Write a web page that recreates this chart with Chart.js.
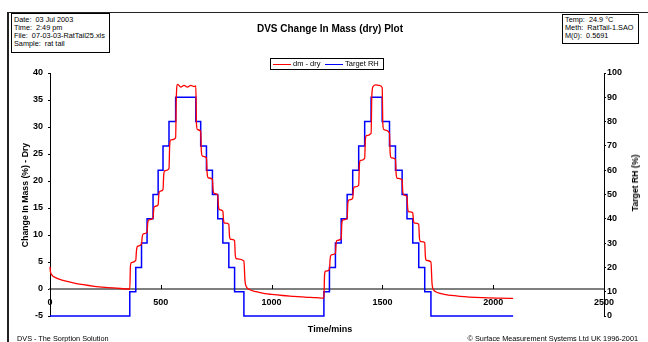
<!DOCTYPE html>
<html>
<head>
<meta charset="utf-8">
<script src="https://cdn.jsdelivr.net/npm/chart.js@4.4.0/dist/chart.umd.min.js"></script>
<style>
  html, body { margin: 0; padding: 0; background: #fff; }
  #wrap { position: relative; width: 648px; height: 342px; overflow: hidden; font-family: "Liberation Sans", Arial, sans-serif; color: #000; }
  #c { position: absolute; left: 0; top: 0; }
  .abs { position: absolute; white-space: nowrap; }
  .info { position: absolute; border: 1.5px solid #000; font-size: 7.3px; line-height: 8px; padding: 1px 2px; box-sizing: border-box; background: #fff; white-space: nowrap; overflow: hidden; }
  .rot { position: absolute; transform: translate(-50%, -50%) rotate(-90deg); font-weight: bold; white-space: nowrap; }
  .legend { position: absolute; border: 1.5px solid #000; box-sizing: border-box; font-size: 7.5px; background: #fff; }
  .legend .ln { position: absolute; height: 1.5px; top: 4.5px; }
  .legend .tx { position: absolute; top: 0; line-height: 10px; white-space: nowrap; color: #000; }
</style>
</head>
<body>
<div id="wrap">
  <canvas id="c" width="648" height="342"></canvas>

  <!-- frame -->
  <div class="abs" style="left:7px;top:12px;width:2px;height:330px;background:#222;"></div>
  <div class="abs" style="left:7px;top:11.5px;width:641px;height:1.5px;background:#222;"></div>

  <div class="info" style="left:11px;top:13px;width:99px;height:40px;padding-top:2px;">
    Date:&nbsp; 03 Jul 2003<br>Time:&nbsp; 2:49 pm<br>File:&nbsp; 07-03-03-RatTail25.xls<br>Sample:&nbsp; rat tail
  </div>
  <div class="info" style="left:562px;top:14px;width:77px;height:30px;">
    Temp:&nbsp; 24.9 °C<br>Meth:&nbsp; RatTail-1.SAO<br>M(0):&nbsp; 0.5691
  </div>

  <div class="abs" style="left:330px;top:28px;transform:translate(-50%,-50%);font-size:10px;font-weight:bold;">DVS Change In Mass (dry) Plot</div>

  <div class="legend" style="left:270px;top:58px;width:114px;height:12px;">
    <div class="ln" style="left:2px;width:18px;background:#ff0000;"></div>
    <div class="tx" style="left:22px;">dm - dry</div>
    <div class="ln" style="left:54px;width:18px;background:#0000ff;"></div>
    <div class="tx" style="left:74px;">Target RH</div>
  </div>

  <div class="rot" style="left:25px;top:195px;font-size:8.7px;">Change In Mass (%) - Dry</div>
  <div class="rot" style="left:635px;top:183px;font-size:8.7px;">Target RH (%)</div>
  <div class="abs" style="left:330px;top:329px;transform:translate(-50%,-50%);font-size:9px;font-weight:bold;">Time/mins</div>

  <div class="abs" style="left:17px;top:334px;font-size:7.3px;">DVS - The Sorption Solution</div>
  <div class="abs" style="right:10px;top:334px;font-size:7.3px;">© Surface Measurement Systems Ltd UK 1996-2001</div>
</div>

<script>
// dm - dry (left axis)
const massTime = [
  0, 2, 8, 25, 50, 100, 150, 200, 250, 300, 360,
  363, 367, 387, 390, 395, 413, 416, 421, 438, 441, 446, 465, 468, 473, 488, 491, 496,
  510, 513, 518, 537, 540, 545, 567, 570, 576, 590, 605, 620, 635, 650, 658,
  661, 666, 680, 683, 688, 706, 709, 714, 733, 736, 741, 757, 760, 765, 780, 783, 788,
  807, 810, 815, 833, 836, 841, 875, 880, 886, 900, 930, 970, 1000, 1050, 1100, 1150, 1200, 1236,
  1239, 1243, 1261, 1264, 1269, 1288, 1291, 1296, 1314, 1317, 1322, 1341, 1344, 1349,
  1366, 1369, 1374, 1393, 1396, 1401, 1420, 1423, 1428, 1449, 1452, 1458, 1470, 1485, 1499,
  1502, 1507, 1532, 1535, 1540, 1559, 1562, 1567, 1589, 1592, 1597, 1611, 1614, 1619,
  1637, 1640, 1645, 1664, 1667, 1672, 1691, 1694, 1699, 1719, 1724, 1730, 1745, 1787,
  1850, 1950, 2030, 2090
];
const massDry = [
  4.1, 3.2, 2.6, 2.1, 1.7, 1.2, 0.8, 0.5, 0.3, 0.15, 0.0,
  4.2, 4.9, 5.3, 7.0, 7.9, 8.3, 9.6, 10.2, 10.5, 12.2, 12.8, 13.1, 14.8, 15.3, 15.6, 17.5, 18.1,
  18.4, 21.0, 21.9, 22.3, 26.5, 27.6, 28.0, 35.5, 37.9, 37.4, 37.7, 37.4, 37.7, 37.5, 37.6,
  30.5, 29.5, 29.2, 25.5, 24.6, 24.3, 21.5, 20.6, 20.3, 18.3, 17.7, 17.4, 15.4, 14.7, 14.4, 12.8, 12.2,
  12.0, 9.8, 9.2, 9.0, 6.3, 5.6, 5.2, 1.5, 0.4, -0.1, -0.5, -0.85, -1.0, -1.2, -1.35, -1.5, -1.6, -1.7,
  2.6, 3.3, 3.6, 5.5, 6.3, 6.6, 8.4, 9.0, 9.3, 12.2, 12.8, 13.1, 15.9, 16.5,
  16.8, 18.4, 18.9, 19.2, 22.9, 23.8, 24.2, 27.6, 28.4, 28.8, 35.5, 37.5, 37.8, 37.7, 37.3,
  30.5, 29.5, 28.9, 25.2, 24.3, 24.0, 21.3, 20.5, 20.2, 18.0, 17.4, 17.1, 15.0, 14.3,
  14.1, 12.7, 12.2, 12.0, 9.5, 8.8, 8.6, 6.0, 5.3, 5.0, 1.0, -0.1, -0.6, -1.05,
  -1.35, -1.6, -1.7, -1.75
];

// Target RH (right axis), value holds from each time onwards
const rhTime = [0, 360, 387, 413, 438, 465, 488, 510, 537, 567, 658, 680, 706, 733, 757, 780, 807, 833, 875,
  1236, 1261, 1288, 1314, 1341, 1366, 1393, 1420, 1449, 1499, 1532, 1559, 1589, 1611, 1637, 1664, 1691, 1719, 2090];
const targetRH = [0, 10, 20, 30, 40, 50, 60, 70, 80, 90, 80, 70, 60, 50, 40, 30, 20, 10, 0,
  10, 20, 30, 40, 50, 60, 70, 80, 90, 80, 70, 60, 50, 40, 30, 20, 10, 0, 0];

const timeTicks = [0, 500, 1000, 1500, 2000, 2500];

const boldTick = { family: '"Liberation Sans", Arial, sans-serif', size: 9, weight: 'bold' };

// small tick marks on the x axis, pointing up like the original
const xTickMarks = {
  id: 'xTickMarks',
  afterDraw(chart) {
    const xs = chart.scales.x;
    const y0 = chart.scales.y.getPixelForValue(0);
    const ctx = chart.ctx;
    ctx.save();
    ctx.strokeStyle = '#000';
    ctx.lineWidth = 1;
    timeTicks.forEach(v => {
      const px = Math.round(xs.getPixelForValue(v)) + 0.5;
      ctx.beginPath();
      ctx.moveTo(px, y0 - 4);
      ctx.lineTo(px, y0);
      ctx.stroke();
    });
    ctx.restore();
  }
};

new Chart(document.getElementById('c'), {
  type: 'line',
  data: {
    datasets: [
      {
        label: 'dm - dry',
        data: massTime.map((t, i) => ({ x: t, y: massDry[i] })),
        borderColor: '#ff0000',
        borderWidth: 1.3,
        pointRadius: 0,
        cubicInterpolationMode: 'monotone',
        yAxisID: 'y',
        clip: false
      },
      {
        label: 'Target RH',
        data: rhTime.map((t, i) => ({ x: t, y: targetRH[i] })),
        borderColor: '#0000ff',
        borderWidth: 1.5,
        pointRadius: 0,
        stepped: true,
        yAxisID: 'y1',
        clip: false
      }
    ]
  },
  options: {
    responsive: false,
    animation: false,
    events: [],
    layout: { padding: { left: 0, right: 0, top: 73, bottom: 26 } },
    plugins: { legend: { display: false }, tooltip: { enabled: false } },
    scales: {
      x: {
        type: 'linear',
        min: 0, max: 2500,
        position: { y: 0 },
        afterBuildTicks: s => { s.ticks = timeTicks.map(v => ({ value: v })); },
        ticks: { font: boldTick, color: '#000', padding: 8, maxRotation: 0, autoSkip: false, callback: v => String(v) },
        grid: { display: false, drawTicks: false },
        border: { display: true, color: '#7f7f7f', width: 2 }
      },
      y: {
        position: 'left',
        min: -5, max: 40,
        ticks: { stepSize: 5, font: boldTick, color: '#000', padding: 5 },
        grid: { drawOnChartArea: false, drawTicks: true, tickLength: 2, color: '#000' },
        border: { display: true, color: '#000', width: 1 },
        afterFit: s => { s.width = 50; }
      },
      y1: {
        position: 'right',
        min: 0, max: 100,
        ticks: { stepSize: 10, font: boldTick, color: '#000', padding: 1 },
        grid: { drawOnChartArea: false, drawTicks: true, tickLength: 2, color: '#000' },
        border: { display: true, color: '#000', width: 1 },
        afterFit: s => { s.width = 44; }
      }
    }
  },
  plugins: [xTickMarks]
});
</script>
</body>
</html>
